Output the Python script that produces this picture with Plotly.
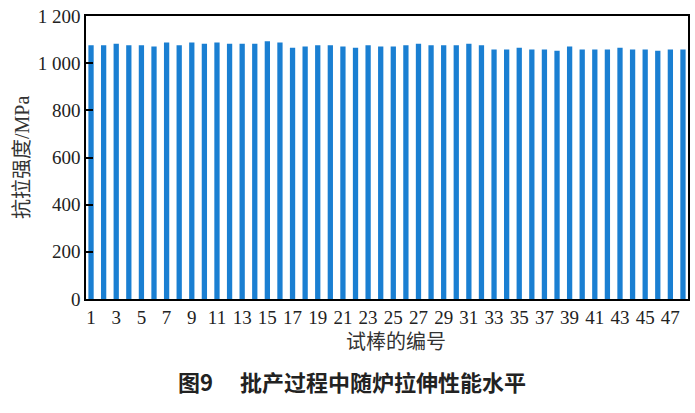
import plotly.graph_objects as go

specimens = list(range(1, 49))
strength = [1076, 1076, 1082, 1076, 1076, 1071, 1088, 1076, 1088, 1082,
            1088, 1082, 1082, 1082, 1093, 1088, 1065, 1071, 1076, 1076,
            1071, 1065, 1076, 1071, 1071, 1076, 1082, 1076, 1076, 1076,
            1082, 1076, 1058, 1058, 1065, 1058, 1058, 1053, 1071, 1058,
            1058, 1058, 1065, 1058, 1058, 1053, 1058, 1058]
x_ticks = list(range(1, 48, 2))
y_ticks = [0, 200, 400, 600, 800, 1000, 1200]
y_tick_text = ["0", "200", "400", "600", "800", "1 000", "1 200"]

fig = go.Figure()
fig.add_trace(go.Bar(
    x=specimens, y=strength,
    marker=dict(color="#1a7fd2", line=dict(width=0)),
    width=0.42,
))

serif = "Liberation Serif, Times New Roman, serif"
cjk = "Liberation Serif, Noto Sans CJK SC, serif"

fig.update_layout(
    width=695, height=413,
    margin=dict(l=86, r=7, t=16, b=114, autoexpand=False),
    paper_bgcolor="white", plot_bgcolor="white",
    showlegend=False,
    font=dict(family=serif, size=19, color="#222"),
    xaxis=dict(
        range=[0.6, 48.4], automargin=False,
        tickvals=x_ticks, ticktext=[str(v) for v in x_ticks],
        ticks="", showgrid=False, zeroline=False,
        showline=True, mirror=True, linecolor="black", linewidth=1.5,
        tickfont=dict(family=serif, size=19, color="#222"),
        tickangle=0,
    ),
    yaxis=dict(
        range=[0, 1200], automargin=False,
        tickvals=y_ticks, ticktext=y_tick_text,
        ticks="inside", ticklen=7, tickwidth=1.5, tickcolor="black",
        showgrid=False, zeroline=False,
        showline=True, mirror=True, linecolor="black", linewidth=1.5,
        tickfont=dict(family=serif, size=19, color="#222"),
        ticklabeloverflow="allow",
    ),
    annotations=[
        dict(text="抗拉强度/MPa", xref="paper", yref="paper",
             x=-0.1063, y=0.498, textangle=-90, showarrow=False,
             font=dict(family=cjk, size=20, color="#333"),
             xanchor="center", yanchor="middle"),
        dict(text="试棒的编号", xref="paper", yref="paper",
             x=0.515, y=-0.152, showarrow=False,
             font=dict(family=cjk, size=20, color="#333"),
             xanchor="center", yanchor="middle"),
        dict(text="<b>图9</b>\u3000 <b>批产过程中随炉拉伸性能水平</b>", xref="paper", yref="paper",
             x=0.442, y=-0.29, showarrow=False,
             font=dict(family="Noto Sans CJK SC", size=22, color="#222"),
             xanchor="center", yanchor="middle"),
    ],
)

fig.write_html("out.html", config={"displayModeBar": False},
               post_script="document.body.style.margin='0';")
